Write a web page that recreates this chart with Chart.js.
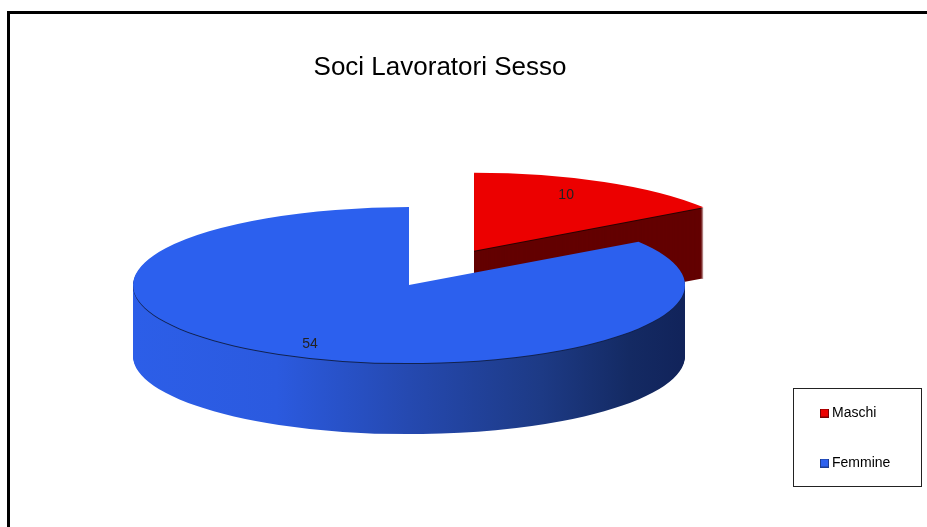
<!DOCTYPE html>
<html>
<head>
<meta charset="utf-8">
<style>html,body{margin:0;padding:0;background:#fff}canvas{display:block}</style>
<script src="https://cdn.jsdelivr.net/npm/chart.js@4"></script>
</head>
<body>
<canvas id="c" width="927" height="527"></canvas>
<script>
const categories = ['Maschi', 'Femmine'];
const values = [10, 54];
const explode = [138, 0];
const chartTitle = 'Soci Lavoratori Sesso';
const topColors = ['#EC0000', '#2C60EE'];
const markerBorders = ['#7a0000', '#1c3c90'];
const labelNudgeX = [-12, 5];
const labelNudgeY = [-1, 4];

const FLAT = 78 / 276, DEPTH = 71;
const FONT = 'Liberation Sans, Arial, sans-serif';

function marker(fill, edge) {
  const m = document.createElement('canvas');
  m.width = 9; m.height = 9;
  const g = m.getContext('2d');
  g.fillStyle = fill; g.fillRect(0, 0, 9, 9);
  g.strokeStyle = edge; g.strokeRect(.5, .5, 8, 8);
  return m;
}
const markers = topColors.map((c, i) => marker(c, markerBorders[i]));

function plain(color) {
  return {backgroundColor: color, borderColor: color, borderWidth: 0, borderAlign: 'center',
    borderJoinStyle: 'round', borderDash: [], borderDashOffset: 0, borderRadius: 0,
    offset: 0, spacing: 0, circular: true};
}

const pie3d = {
  id: 'pie3d',
  afterLayout(chart) {
    const t = chart.titleBlock;
    t.left = 0; t.right = 880;
    const l = chart.legend;
    const w = l.right - l.left, h = l.bottom - l.top;
    l.left = 788; l.right = 788 + w; l.top = 370; l.bottom = 370 + h;
  },
  afterDatasetsUpdate(chart) {
    chart.getDatasetMeta(0).data.forEach((el, i) => {
      const mid = (el.startAngle + el.endAngle) / 2;
      el.x += Math.cos(mid) * explode[i];
      el.y += Math.sin(mid) * explode[i];
    });
  },
  beforeDraw(chart) {
    const c = chart.ctx;
    c.save();
    c.strokeStyle = '#000'; c.lineWidth = 3;
    c.strokeRect(8.5, 12.5, 1000, 1000);
    c.strokeStyle = '#222'; c.lineWidth = 1;
    c.strokeRect(793.5, 388.5, 128, 98);
    c.restore();
  },
  beforeDatasetsDraw(chart) {
    const c = chart.ctx, a = chart.chartArea;
    const cy = (a.top + a.bottom) / 2, arcs = chart.getDatasetMeta(0).data;
    c.save();
    c.translate(0, cy); c.scale(1, FLAT); c.translate(0, -cy);
    const grad = c.createLinearGradient(133, 0, 685, 0);
    grad.addColorStop(0, '#2C5EE8'); grad.addColorStop(.26, '#2B5ADF');
    grad.addColorStop(.5, '#2549B0'); grad.addColorStop(.74, '#1D3A85');
    grad.addColorStop(.9, '#142A63'); grad.addColorStop(1, '#11235A');
    const sides = ['#630000', grad], edges = ['#2a0000', '#12224f'];
    arcs.forEach((el, i) => {
      const orig = el.options;
      for (let d = DEPTH; d >= 1; d--) {
        el.options = plain(d === 1 ? edges[i] : sides[i]);
        c.save();
        c.translate(0, d / FLAT);
        el.draw(c);
        c.restore();
      }
      el.options = orig;
    });
  },
  afterDatasetsDraw(chart) {
    const c = chart.ctx, a = chart.chartArea;
    c.restore();
    const cy = (a.top + a.bottom) / 2;
    const arcs = chart.getDatasetMeta(0).data;
    c.save();
    c.font = '14px ' + FONT;
    c.fillStyle = '#222';
    c.textAlign = 'center'; c.textBaseline = 'middle';
    arcs.forEach((el, i) => {
      const mid = (el.startAngle + el.endAngle) / 2;
      const r = 0.8 * el.outerRadius;
      const x = el.x + Math.cos(mid) * r + labelNudgeX[i];
      const y = cy + (el.y - cy + Math.sin(mid) * r) * FLAT + labelNudgeY[i];
      c.fillText(String(values[i]), x, y);
    });
    c.restore();
  }
};

new Chart(document.getElementById('c'), {
  type: 'pie',
  data: {
    labels: categories,
    datasets: [{
      data: values,
      backgroundColor: topColors,
      borderWidth: 0,
      hoverOffset: 0,
      clip: false
    }]
  },
  options: {
    responsive: false,
    animation: false,
    radius: 276,
    layout: {padding: {left: 0, top: 0, right: 109, bottom: 40}},
    plugins: {
      title: {
        display: true, text: chartTitle, color: '#000',
        font: {family: FONT, size: 26, weight: 'normal'},
        padding: {top: 52, bottom: 0}
      },
      legend: {
        position: 'chartArea', align: 'start',
        labels: {
          usePointStyle: true, pointStyleWidth: 1, boxHeight: 9, color: '#222',
          padding: 36, font: {family: FONT, size: 14},
          generateLabels: () => categories.map((t, i) => ({
            text: t, fillStyle: topColors[i], strokeStyle: topColors[i], lineWidth: 0,
            pointStyle: markers[i], hidden: false, index: i
          }))
        }
      },
      tooltip: {enabled: false}
    }
  },
  plugins: [pie3d]
});
</script>
</body>
</html>
